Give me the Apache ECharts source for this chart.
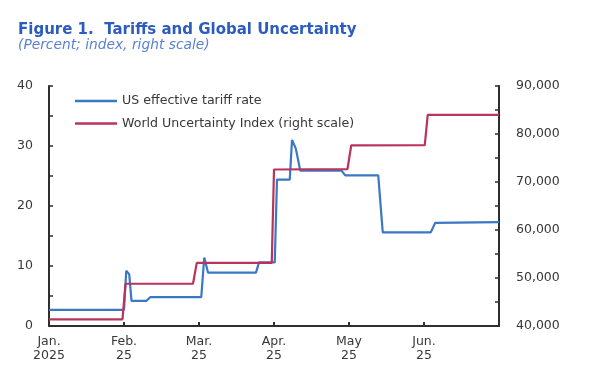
<!DOCTYPE html>
<html>
<head>
<meta charset="utf-8">
<script src="https://cdn.jsdelivr.net/npm/echarts@6/dist/echarts.min.js"></script>
<style>
html,body{margin:0;padding:0;background:#fff;}
#chart{width:604px;height:380px;}
</style>
</head>
<body>
<div id="chart"></div>
<script>
// x positions are in months since 1 Jan 2025 (0 = Jan., 1 = Feb., ...)
var monthLabels = ['Jan.\n2025', 'Feb.\n25', 'Mar.\n25', 'Apr.\n25', 'May\n25', 'Jun.\n25', ''];

var tariffMonths = [0, 1.00, 1.03, 1.05, 1.07, 1.10, 1.30, 1.35, 2.03, 2.07, 2.09, 2.12, 2.76, 2.80, 3.01, 3.04, 3.21, 3.24, 3.29, 3.35, 3.90, 3.95, 4.39, 4.45, 5.09, 5.15, 6.00];
var tariffRate   = [2.7, 2.7, 9.2, 9.3, 8.6, 4.2, 4.2, 4.8, 4.8, 11.4, 11.2, 8.9, 8.9, 10.6, 10.6, 24.4, 24.4, 31.0, 29.6, 25.9, 25.9, 25.1, 25.1, 15.6, 15.6, 17.2, 17.3];

var wuiMonths = [0, 0.98, 1.02, 1.92, 1.97, 2.97, 3.00, 3.98, 4.03, 5.01, 5.05, 6.00];
var wuiIndex  = [41400, 41400, 48800, 48800, 53150, 53150, 72600, 72700, 77650, 77700, 84000, 84000];

var leftTicks = [0, 10, 20, 30, 40];
var rightTicks = [40000, 50000, 60000, 70000, 80000, 90000];

function pairs(xs, ys) {
  var out = [];
  for (var i = 0; i < xs.length; i++) out.push([xs[i], ys[i]]);
  return out;
}

var FONT = 'DejaVu Sans';
var TXT = '#383838';
var AX = '#2e2e2e';

var chart = echarts.init(document.getElementById('chart'), null, {renderer: 'canvas'});
chart.setOption({
  animation: false,
  backgroundColor: '#ffffff',
  title: {
    text: 'Figure 1.  Tariffs and Global Uncertainty',
    subtext: '(Percent; index, right scale)',
    left: 18,
    top: 22,
    itemGap: 0,
    padding: 0,
    textStyle: {fontFamily: FONT, fontSize: 15, fontWeight: 'bold', color: '#2c5cc0', lineHeight: 16},
    subtextStyle: {fontFamily: FONT, fontSize: 13.8, fontStyle: 'italic', color: '#5a80d4', lineHeight: 15}
  },
  legend: {
    orient: 'vertical',
    left: 75,
    top: 94,
    padding: 0,
    itemGap: 8.6,
    itemWidth: 42,
    itemHeight: 2.5,
    icon: 'rect',
    textStyle: {fontFamily: FONT, fontSize: 12.6, color: TXT, lineHeight: 14},
    data: ['US effective tariff rate', 'World Uncertainty Index (right scale)']
  },
  grid: {left: 49, right: 105, top: 86, bottom: 54, containLabel: false},
  xAxis: {
    type: 'value',
    min: 0,
    max: 6,
    interval: 1,
    axisLine: {show: true, onZero: false, lineStyle: {color: AX, width: 2}},
    axisTick: {show: true, inside: true, length: 4, lineStyle: {color: AX, width: 2}},
    splitLine: {show: false},
    axisLabel: {
      margin: 9,
      fontFamily: FONT, fontSize: 12.5, color: TXT, lineHeight: 14,
      formatter: function (v) { return monthLabels[Math.round(v)] || ''; }
    }
  },
  yAxis: [
    {
      type: 'value',
      position: 'left',
      min: 0,
      max: 40,
      interval: 5,
      axisLine: {show: true, onZero: false, lineStyle: {color: AX, width: 2}},
      axisTick: {show: true, inside: true, length: 4, lineStyle: {color: AX, width: 1.5}},
      splitLine: {show: false},
      axisLabel: {
        margin: 16,
        fontFamily: FONT, fontSize: 12.5, color: TXT,
        formatter: function (v) { return leftTicks.indexOf(v) >= 0 ? String(v) : ''; }
      }
    },
    {
      type: 'value',
      position: 'right',
      min: 40000,
      max: 90000,
      interval: 5000,
      axisLine: {show: true, onZero: false, lineStyle: {color: AX, width: 2}},
      axisTick: {show: true, inside: true, length: 4, lineStyle: {color: AX, width: 1.5}},
      splitLine: {show: false},
      axisLabel: {
        margin: 17,
        fontFamily: FONT, fontSize: 12.5, color: TXT,
        formatter: function (v) { return rightTicks.indexOf(v) >= 0 ? v.toLocaleString('en-US') : ''; }
      }
    }
  ],
  series: [
    {
      name: 'US effective tariff rate',
      type: 'line',
      yAxisIndex: 0,
      symbol: 'none',
      data: pairs(tariffMonths, tariffRate),
      lineStyle: {color: '#3a78c2', width: 2.2},
      itemStyle: {color: '#3a78c2'},
      z: 2
    },
    {
      name: 'World Uncertainty Index (right scale)',
      type: 'line',
      yAxisIndex: 1,
      symbol: 'none',
      data: pairs(wuiMonths, wuiIndex),
      lineStyle: {color: '#b8345c', width: 2.2},
      itemStyle: {color: '#b8345c'},
      z: 3
    }
  ]
});
</script>
</body>
</html>
